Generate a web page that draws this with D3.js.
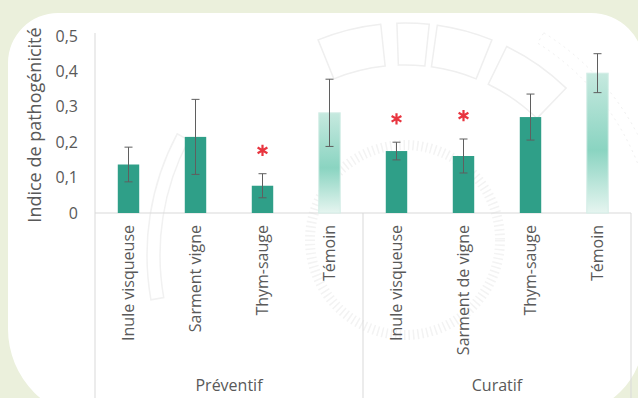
<!DOCTYPE html>
<html>
<head>
<meta charset="utf-8">
<script src="https://cdn.jsdelivr.net/npm/d3@7"></script>
<style>
  body { margin: 0; background: #ebf0dc; }
  svg text { font-family: "Open Sans", sans-serif; fill: #595959; }
</style>
</head>
<body>
<svg id="chart" width="638" height="398"></svg>
<script>
// pathogenicity index bars

var categories = ["Inule visqueuse", "Sarment vigne", "Thym-sauge", "Témoin",
                  "Inule visqueuse", "Sarment de vigne", "Thym-sauge", "Témoin"];
var groups = ["Préventif", "Curatif"];
var values = [0.137, 0.215, 0.077, 0.283, 0.175, 0.161, 0.271, 0.395];
var errors = [0.049, 0.106, 0.034, 0.095, 0.025, 0.048, 0.065, 0.055];
var signif = [false, false, true, false, true, true, false, false];
var control = [false, false, false, true, false, false, false, true];
var yTicks = [0, 0.1, 0.2, 0.3, 0.4, 0.5];

var svg = d3.select("#chart");
var W = 638, H = 398;

svg.append("rect").attr("width", W).attr("height", H).attr("fill", "#ebf0dc");

// white panel
svg.append("path")
    .attr("d", "M8,63 A50,50 0 0 1 58,13 L591,13 A53,53 0 0 1 644,66 L644,335 " +
               "A80,80 0 0 1 564,415 L98,419 A90,90 0 0 1 8,329 Z")
    .attr("fill", "#ffffff");

// faint watermark in the background
var wm = svg.append("g").attr("transform", "translate(405,255)");
var segs = [[-22, -6], [-2, 6], [8, 22], [26, 44]];
segs.forEach(function(s) {
    wm.append("path")
        .attr("d", d3.arc()({innerRadius: 190, outerRadius: 232,
            startAngle: s[0] * Math.PI / 180, endAngle: s[1] * Math.PI / 180}))
        .attr("fill", "none")
        .attr("stroke", "#efefef")
        .attr("stroke-width", 1.5);
});
wm.append("path")
    .attr("d", d3.arc()({innerRadius: 245, outerRadius: 258,
        startAngle: -100 * Math.PI / 180, endAngle: -62 * Math.PI / 180}))
    .attr("fill", "none").attr("stroke", "#f1f1f1").attr("stroke-width", 1.5);
wm.append("circle").attr("cx", 0).attr("cy", -15).attr("r", 95)
    .attr("fill", "none").attr("stroke", "#f3f3f3")
    .attr("stroke-width", 10).attr("stroke-dasharray", "1.5,3");
wm.append("path")
    .attr("d", d3.arc()({innerRadius: 250, outerRadius: 262,
        startAngle: 32 * Math.PI / 180, endAngle: 80 * Math.PI / 180}))
    .attr("fill", "none").attr("stroke", "#f0f0f0").attr("stroke-dasharray", "2,4");

var left = 95, right = 631, y0 = 213, yTop = 36;

var x = d3.scaleBand()
    .domain(d3.range(categories.length))
    .range([left, right]);

var y = d3.scaleLinear()
    .domain([0, 0.5])
    .range([y0, yTop]);

var bw = x.bandwidth() * 0.32;

// gradient for the control bars
var defs = svg.append("defs");
var grad = defs.append("linearGradient")
    .attr("id", "temoin")
    .attr("x1", 0).attr("y1", 0).attr("x2", 0).attr("y2", 1);
grad.append("stop").attr("offset", "0%").attr("stop-color", "#c6e9df");
grad.append("stop").attr("offset", "55%").attr("stop-color", "#8ad4c1");
grad.append("stop").attr("offset", "100%").attr("stop-color", "#e6f5f0");

// axis lines
svg.append("line")
    .attr("x1", left).attr("x2", left).attr("y1", yTop - 3).attr("y2", H)
    .attr("stroke", "#d9d9d9");
svg.append("line")
    .attr("x1", left).attr("x2", right).attr("y1", y0).attr("y2", y0)
    .attr("stroke", "#d9d9d9");
[4, 8].forEach(function(i) {
    var xx = left + x.step() * i;
    svg.append("line")
        .attr("x1", xx).attr("x2", xx).attr("y1", y0).attr("y2", H)
        .attr("stroke", "#d9d9d9");
});

// y axis labels
var yAxis = d3.axisLeft(y)
    .tickValues(yTicks)
    .tickSize(0)
    .tickPadding(17)
    .tickFormat(function(d) { return d === 0 ? "0" : d3.format(".1f")(d).replace(".", ","); });

var ya = svg.append("g")
    .attr("transform", "translate(" + left + ",0)")
    .call(yAxis);
ya.select(".domain").remove();
ya.selectAll("text")
    .attr("font-size", 16)
    .style("font-family", "'Open Sans', sans-serif")
    .attr("fill", "#595959");

svg.append("text")
    .attr("transform", "translate(41,125) rotate(-90)")
    .attr("text-anchor", "middle")
    .attr("font-size", 18)
    .text("Indice de pathogénicité");

// bars
svg.selectAll(".bar")
    .data(values)
    .enter().append("rect")
    .attr("class", "bar")
    .attr("x", function(d, i) { return x(i) + x.bandwidth() / 2 - bw / 2; })
    .attr("y", function(d) { return y(d); })
    .attr("width", bw)
    .attr("height", function(d) { return y0 - y(d); })
    .attr("fill", function(d, i) { return control[i] ? "url(#temoin)" : "#2f9f88"; })
    .attr("stroke", function(d, i) { return control[i] ? "#d3ede6" : "none"; });

// error bars
values.forEach(function(v, i) {
    var cx = x(i) + x.bandwidth() / 2;
    var lo = y(v - errors[i]), hi = y(v + errors[i]);
    var eg = svg.append("g").attr("stroke", "#5f5f5f").attr("stroke-width", 1);
    eg.append("line").attr("x1", cx).attr("x2", cx).attr("y1", lo).attr("y2", hi);
    eg.append("line").attr("x1", cx - 4).attr("x2", cx + 4).attr("y1", lo).attr("y2", lo);
    eg.append("line").attr("x1", cx - 4).attr("x2", cx + 4).attr("y1", hi).attr("y2", hi);
});

// significance stars
var star = d3.symbol().type(d3.symbolAsterisk).size(90);
values.forEach(function(v, i) {
    if (!signif[i]) return;
    var cx = x(i) + x.bandwidth() / 2;
    svg.append("path")
        .attr("d", star)
        .attr("transform", "translate(" + cx + "," + y(v + errors[i] + 0.066) + ")")
        .attr("fill", "none")
        .attr("stroke", "#e8353f")
        .attr("stroke-width", 2.2);
});

// category labels
svg.selectAll(".xlab")
    .data(categories)
    .enter().append("text")
    .attr("class", "xlab")
    .attr("transform", function(d, i) {
        return "translate(" + (x(i) + x.bandwidth() / 2) + "," + (y0 + 12) + ") rotate(-90)";
    })
    .attr("dy", "0.35em")
    .attr("text-anchor", "end")
    .attr("font-size", 16)
    .text(function(d) { return d; });

// group labels
groups.forEach(function(gname, gi) {
    var cx = left + x.step() * (gi * 4 + 2);
    svg.append("text")
        .attr("x", cx)
        .attr("y", 391)
        .attr("text-anchor", "middle")
        .attr("font-size", 16)
        .text(gname);
});
</script>
</body>
</html>
